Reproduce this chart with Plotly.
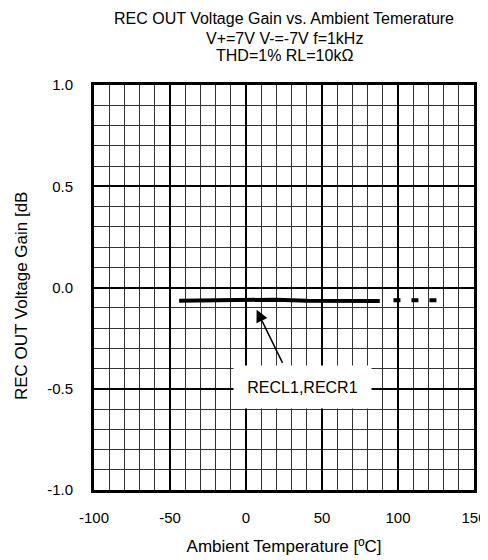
import plotly.graph_objects as go

# Data
temp_solid = [-44, -20, 0, 20, 40, 60, 88]
gain_solid = [-0.065, -0.062, -0.058, -0.060, -0.065, -0.067, -0.067]
temp_dash = [97, 126]
gain_dash = [-0.063, -0.063]

x_ticks = [-100, -50, 0, 50, 100, 150]
x_ticklabels = ["-100", "-50", "0", "50", "100", "150"]
y_ticks = [-1.0, -0.5, 0.0, 0.5, 1.0]
y_ticklabels = ["-1.0", "-0.5", "0.0", "0.5", "1.0"]

title_lines = ["REC OUT Voltage Gain vs. Ambient Temerature",
               "V+=7V V-=-7V f=1kHz",
               "THD=1% RL=10kΩ"]
x_title = "Ambient Temperature [ºC]"
y_title = "REC OUT Voltage Gain [dB"
label_text = "RECL1,RECR1"
arrow_tip = (7, -0.11)
arrow_tail = (24.5, -0.38)
label_pos = (37, -0.49)

FONT = "Liberation Sans, Arial, sans-serif"

fig = go.Figure()
fig.add_trace(go.Scatter(x=temp_solid, y=gain_solid, mode="lines",
                         line=dict(color="black", width=4), showlegend=False))
fig.add_trace(go.Scatter(x=temp_dash, y=gain_dash, mode="lines",
                         line=dict(color="black", width=4, dash="7px,11px"),
                         showlegend=False))

fig.add_annotation(x=arrow_tip[0], y=arrow_tip[1], ax=arrow_tail[0], ay=arrow_tail[1],
                   xref="x", yref="y", axref="x", ayref="y", text="",
                   showarrow=True, arrowhead=2, arrowsize=1.6, arrowwidth=1.5,
                   arrowcolor="black")
fig.add_annotation(x=label_pos[0], y=label_pos[1], xref="x", yref="y",
                   text=label_text, showarrow=False, bgcolor="white",
                   width=135, height=40, font=dict(family=FONT, size=16, color="black"))

# Title lines as separate annotations above the plot
for line, ypos in zip(title_lines, [1.163, 1.116, 1.072]):
    fig.add_annotation(x=0.5, y=ypos, xref="paper", yref="paper", text=line,
                       showarrow=False, xanchor="center", yanchor="middle",
                       font=dict(family=FONT, size=16, color="black"))

# Y-axis title (slightly below centre, as in the reference)
fig.add_annotation(x=-0.192, y=0.479, xref="paper", yref="paper", text=y_title,
                   textangle=-90, showarrow=False, xanchor="center", yanchor="middle",
                   font=dict(family=FONT, size=17, color="black"))

axis_common = dict(showline=True, linecolor="black", linewidth=3, mirror=True,
                   ticks="", zeroline=False, showgrid=True, gridcolor="black",
                   gridwidth=1.5, automargin=False,
                   tickfont=dict(family=FONT, size=15, color="black"))

fig.update_xaxes(range=[-100, 150], tickvals=x_ticks, ticktext=x_ticklabels,
                 minor=dict(dtick=10, showgrid=True, gridcolor="#333", gridwidth=1),
                 title=dict(text=x_title,
                            font=dict(family=FONT, size=17, color="black"), standoff=16),
                 ticklabelstandoff=12, **axis_common)
fig.update_yaxes(range=[-1.0, 1.0], tickvals=y_ticks, ticktext=y_ticklabels,
                 minor=dict(dtick=0.1, showgrid=True, gridcolor="#333", gridwidth=1),
                 ticklabelstandoff=15, **axis_common)

# The page adds an 8px body margin, so the figure is sized to fit the window
fig.update_layout(
    width=480, height=552,
    margin=dict(l=86, r=14, t=77, b=70),
    paper_bgcolor="white", plot_bgcolor="white",
)

fig.write_html("out.html")
